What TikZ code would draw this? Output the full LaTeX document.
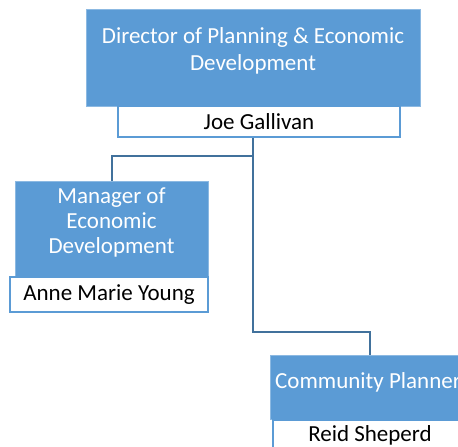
\documentclass[tikz,border=0pt]{standalone}
\usepackage{fontspec}
\setmainfont{Carlito}
\usetikzlibrary{calc}
\definecolor{boxblue}{HTML}{5B9BD5}
\definecolor{lineblue}{HTML}{41719C}
\tikzset{
  titlebox/.style={draw=boxblue!70!white, line width=1pt, fill=boxblue, inner sep=0pt},
  titletext/.style={text=white, align=center, inner sep=0pt, font=\fontsize{23}{25}\selectfont},
  namebox/.style={draw=boxblue, line width=1.5pt, fill=white, text=black, align=center, inner sep=0pt, font=\fontsize{23}{26}\selectfont},
  conn/.style={draw=lineblue, line width=2pt}
}
\begin{document}
\begin{tikzpicture}[x=1pt,y=1pt]
\useasboundingbox (0,0) rectangle (458,-447);
\clip (0,0) rectangle (458,-447);
\node[titlebox, minimum width=334pt, minimum height=97pt] (dir) at (253,-57.5) {};
\node[titletext, font=\fontsize{23}{27}\selectfont] (dirtext) at (253,-51) {Director of Planning \& Economic\\Development};
\node[namebox, minimum width=282pt, minimum height=31pt] (dirname) at (259,-121.5) {Joe Gallivan};
\node[titlebox, minimum width=193pt, minimum height=96pt] (mgr) at (111.5,-229) {};
\node[titletext, font=\fontsize{23}{25}\selectfont] (mgrtext) at (111.5,-222) {Manager of\\Economic\\Development};
\node[namebox, minimum width=198pt, minimum height=35pt] (mgrname) at (109,-294.5) {Anne Marie Young};
\node[titlebox, minimum width=200pt, minimum height=64pt] (comm) at (370,-387) {};
\node[titletext] (commtext) at (368,-382) {Community Planner};
\node[namebox, minimum width=194pt, minimum height=31pt, anchor=north] (commname) at (370,-419) {Reid Sheperd};
\coordinate (A) at (dir.south |- dirname.south);
\draw[conn] (A) |- ($(mgr.north)+(0,25)$) -- (mgr.north);
\draw[conn] (A) |- ($(comm.north)+(0,23)$) -- (comm.north);
\end{tikzpicture}
\end{document}
